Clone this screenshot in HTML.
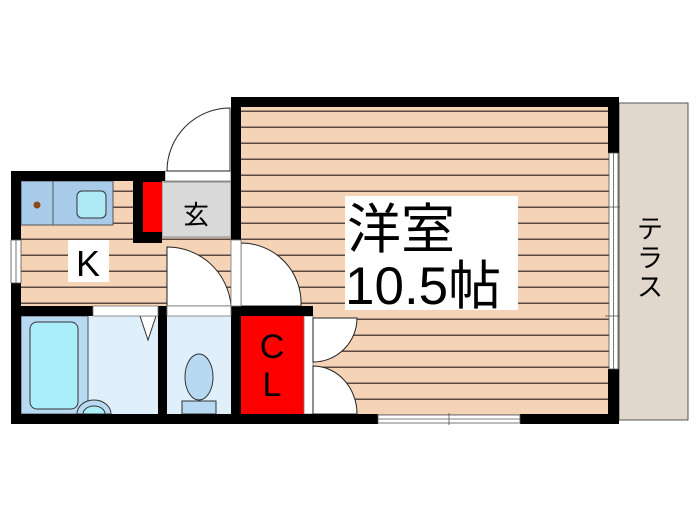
<!DOCTYPE html>
<html><head><meta charset="utf-8"><style>
html,body{margin:0;padding:0;background:#fff;width:700px;height:525px;overflow:hidden}
svg{display:block}
text{font-family:"Liberation Sans","Noto Sans CJK JP",sans-serif;fill:#000}
</style></head><body>
<svg width="700" height="525" viewBox="0 0 700 525" xmlns="http://www.w3.org/2000/svg">
<defs>
<pattern id="fl" x="0" y="0" width="10" height="16" patternUnits="userSpaceOnUse">
<rect width="10" height="16" fill="#f4d3b7"/><rect y="14.5" width="10" height="1.5" fill="#5a4a42"/>
</pattern>
</defs>
<rect x="619" y="103" width="69" height="317" fill="#e2d7cd" stroke="#555" stroke-width="1"/>
<rect x="241" y="107" width="368" height="308" fill="url(#fl)"/>
<rect x="21" y="181" width="210" height="125" fill="url(#fl)"/>
<rect x="21" y="181" width="92" height="44" fill="#a9cbea" stroke="#555" stroke-width="1"/>
<line x1="53" y1="181" x2="53" y2="225" stroke="#555"/>
<rect x="77" y="191" width="29" height="27" rx="5" fill="#aeeaf5" stroke="#333"/>
<circle cx="37" cy="205" r="3.5" fill="#8a4a1a"/>
<rect x="68" y="240" width="41" height="42" fill="#fff"/>
<text x="88" y="276" font-size="36" text-anchor="middle">K</text>
<rect x="162" y="182" width="69" height="55" fill="#d9d9d9" stroke="#888" stroke-width="1"/>
<text x="196" y="224" font-size="26" text-anchor="middle">玄</text>
<rect x="133" y="181" width="29" height="62" fill="#000"/>
<rect x="143" y="182" width="19" height="50" fill="#f00"/>
<rect x="165" y="171" width="66" height="10" fill="#fff" stroke="#777" stroke-width="0.8"/>
<path d="M167 171 A63 63 0 0 1 230 108 L230 171 Z" fill="#fff" stroke="#222" stroke-width="1"/>
<path d="M167 247 A64 64 0 0 1 231 306 L167 306 Z" fill="#fff" stroke="#222" stroke-width="1"/>
<path d="M241 243 A60 60 0 0 1 301 306 L241 306 Z" fill="#fff" stroke="#222" stroke-width="1"/>
<rect x="21" y="316" width="137" height="98" fill="#dff0fb"/>
<rect x="21" y="316" width="67" height="98" fill="#b7daf2" stroke="#555"/>
<rect x="30" y="322" width="48" height="87" rx="7" fill="#aaeefa" stroke="#333"/>
<path d="M77 414 A17 14 0 0 1 111 414 Z" fill="#b7daf2" stroke="#333"/>
<path d="M83 414 A11 8 0 0 1 105 414 Z" fill="#aaeefa" stroke="#333"/>
<path d="M140 316 L156 316 L148 340 Z" fill="#fff" stroke="#333"/>
<rect x="167" y="316" width="64" height="98" fill="#dff0fb"/>
<ellipse cx="199" cy="377" rx="14" ry="23" fill="#b7daf2" stroke="#333"/>
<rect x="182" y="401" width="34" height="13" fill="#b7daf2" stroke="#333"/>
<rect x="241" y="316" width="63" height="98" fill="#f00"/>
<rect x="304" y="316" width="9" height="98" fill="#fff" stroke="#777" stroke-width="0.8"/>
<text x="272" y="358" font-size="34" text-anchor="middle">C</text>
<text x="272" y="396" font-size="34" text-anchor="middle">L</text>
<path d="M313 318 L357 318 A44 44 0 0 1 313 362 Z" fill="#fff" stroke="#222"/>
<path d="M313 366 A44 48 0 0 1 357 414 L313 414 Z" fill="#fff" stroke="#222"/>
<g fill="#000">
<rect x="231" y="97" width="388" height="10"/>
<rect x="231" y="97" width="10" height="143"/>
<rect x="231" y="306" width="10" height="118"/>
<rect x="608" y="97" width="11" height="56"/>
<rect x="608" y="369" width="11" height="55"/>
<rect x="11" y="171" width="154" height="10"/>
<rect x="11" y="171" width="10" height="69"/>
<rect x="11" y="283" width="10" height="141"/>
<rect x="11" y="306" width="82" height="10"/>
<rect x="158" y="306" width="9" height="118"/>
<rect x="231" y="306" width="82" height="10"/>
<rect x="11" y="414" width="367" height="10"/>
<rect x="520" y="414" width="99" height="10"/>
</g>
<rect x="93" y="306" width="65" height="10" fill="#fff" stroke="#777" stroke-width="0.8"/>
<rect x="167" y="306" width="64" height="10" fill="#fff" stroke="#777" stroke-width="0.8"/>
<rect x="231" y="240" width="10" height="66" fill="#fff" stroke="#777" stroke-width="0.8"/>
<rect x="11" y="240" width="10" height="43" fill="#fff" stroke="#555" stroke-width="0.8"/>
<line x1="16" y1="240" x2="16" y2="283" stroke="#555" stroke-width="0.8"/>
<rect x="609" y="153" width="9" height="216" fill="#fff" stroke="#555" stroke-width="0.8"/>
<line x1="613.5" y1="153" x2="613.5" y2="369" stroke="#555" stroke-width="0.8"/>
<line x1="605" y1="207" x2="620" y2="207" stroke="#555" stroke-width="0.8"/>
<line x1="605" y1="316" x2="620" y2="316" stroke="#555" stroke-width="0.8"/>
<rect x="378" y="415" width="142" height="8" fill="#fff" stroke="#555" stroke-width="0.8"/>
<line x1="378" y1="419" x2="520" y2="419" stroke="#555" stroke-width="0.8"/>
<line x1="449" y1="413" x2="449" y2="425" stroke="#555" stroke-width="0.8"/>
<rect x="345" y="196" width="173" height="114" fill="#fff"/>
<text x="347" y="248" font-size="54">洋室</text>
<text x="345" y="304" font-size="53">10.5帖</text>
<text x="650" y="238" font-size="26" text-anchor="middle">テ</text>
<text x="650" y="267" font-size="26" text-anchor="middle">ラ</text>
<text x="650" y="296" font-size="26" text-anchor="middle">ス</text>
</svg>
</body></html>
